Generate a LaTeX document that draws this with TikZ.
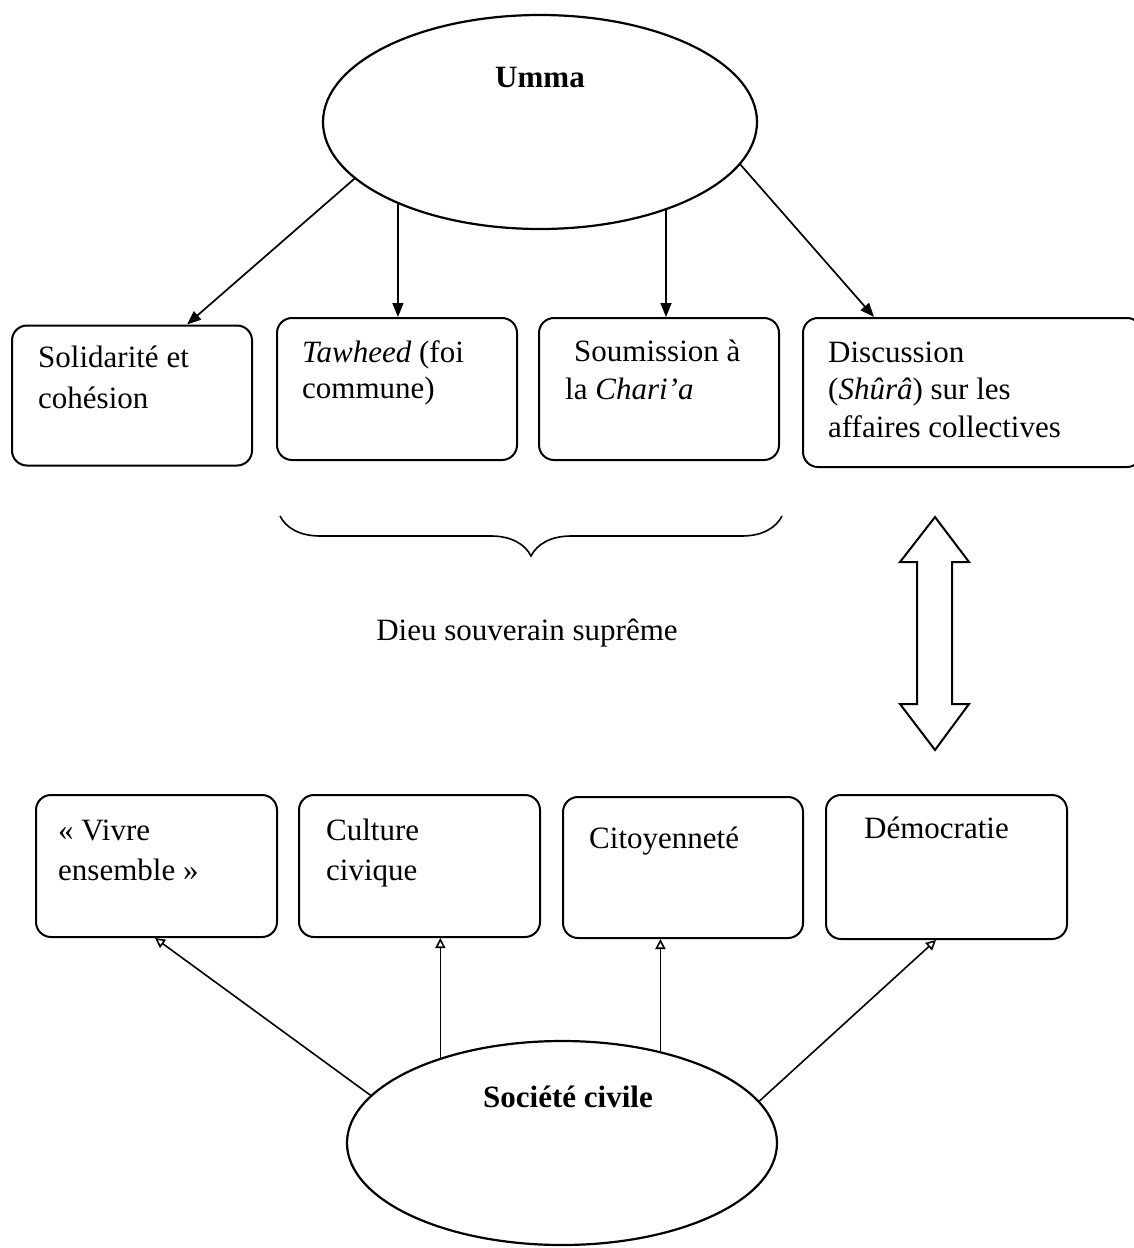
\documentclass[tikz,border=0pt]{standalone}
\usepackage{fontspec}
\setmainfont{Liberation Serif}
\usetikzlibrary{arrows.meta,calc,decorations.pathreplacing,shapes.geometric}
\begin{document}
\begin{tikzpicture}[x=1pt,y=-1pt,
  boxst/.style={draw, line width=2pt, rounded corners=15pt, inner sep=0pt},
  ellst/.style={draw, ellipse, line width=2.2pt, inner sep=0pt},
  txt/.style={inner sep=0pt, font=\fontsize{31}{38}\selectfont},
  btxt/.style={inner sep=0pt, font=\fontsize{31}{38}\selectfont\bfseries},
  toparrow/.style={line width=1.7pt, -{Triangle[length=14pt,width=11pt]}},
  botarrow/.style={line width=1.6pt, -{Triangle[open,length=10pt,width=10pt]}}
]
\useasboundingbox (0,0) rectangle (1134,1248);

% Umma ellipse
\node[ellst, minimum width=434pt, minimum height=214pt] (umma) at (540,122) {};
\node[btxt, anchor=base] (ummat) at (540,87) {Umma};

% Top boxes
\node[boxst, minimum width=240pt, minimum height=140pt] (t1) at (132,395.5) {};
\node[boxst, minimum width=240pt, minimum height=142pt] (t2) at (397,389) {};
\node[boxst, minimum width=240pt, minimum height=142pt] (t3) at (659,389) {};
\node[boxst, minimum width=339pt, minimum height=149pt] (t4) at (972.5,392.5) {};

\node[txt, anchor=base west] (t1a) at (38,367) {Solidarité et};
\node[txt, anchor=base west] (t1b) at (38,408) {cohésion};
\node[txt, anchor=base west] (t2a) at (302,362) {\textit{Tawheed} (foi};
\node[txt, anchor=base west] (t2b) at (302,398) {commune)};
\node[txt, anchor=base west] (t3a) at (574,361) {Soumission à};
\node[txt, anchor=base west] (t3b) at (565,399) {la \textit{Chari’a}};
\node[txt, anchor=base west] (t4a) at (828,362) {Discussion};
\node[txt, anchor=base west] (t4b) at (828,399) {(\textit{Shûrâ}) sur les};
\node[txt, anchor=base west] (t4c) at (828,437) {affaires collectives};

% Arrows from Umma
\draw[toparrow] (umma.197) -- ($(t1.north west)+(176,0)$);
\draw[toparrow] (umma.210) -- (umma.210 |- t2.north);
\draw[toparrow] (umma.325) -- (umma.325 |- t3.north);
\draw[toparrow] (umma.348.4) -- ($(t4.north west)+(72,0)$);

% Brace
\coordinate (brl) at (280,516);
\coordinate (brr) at (782,516);
\draw[line width=1.6pt, decorate, decoration={brace, mirror, amplitude=40pt}] (brl) -- (brr);
\node[txt, anchor=base] (dieu) at (527,640) {Dieu souverain suprême};

% Double block arrow
\draw[line width=2pt, line join=miter] (935,517) -- (969,562) -- (952,562) -- (952,704) -- (969,704)
  -- (935,750) -- (900,704) -- (917,704) -- (917,562) -- (900,562) -- cycle;

% Bottom boxes
\node[boxst, minimum width=241pt, minimum height=142pt] (b1) at (156.5,866) {};
\node[boxst, minimum width=241pt, minimum height=142pt] (b2) at (419.5,866) {};
\node[boxst, minimum width=240pt, minimum height=141pt] (b3) at (683,867.5) {};
\node[boxst, minimum width=241pt, minimum height=144pt] (b4) at (946.5,867) {};

\node[txt, anchor=base west] (b1a) at (58,840) {« Vivre};
\node[txt, anchor=base west] (b1b) at (58,880) {ensemble »};
\node[txt, anchor=base west] (b2a) at (326,840) {Culture};
\node[txt, anchor=base west] (b2b) at (326,880) {civique};
\node[txt, anchor=base west] (b3a) at (589,848) {Citoyenneté};
\node[txt, anchor=base west] (b4a) at (864,838) {Démocratie};

% Société civile ellipse
\node[ellst, minimum width=430pt, minimum height=204pt] (soc) at (562,1143) {};
\node[btxt, anchor=base] (soct) at (568,1107) {Société civile};

% Arrows from Société civile
\draw[botarrow] (soc.166.7) -- ($(b1.south west)+(120,0)$);
\draw[botarrow] (soc.145) -- (soc.145 |- b2.south);
\draw[botarrow] (soc.43) -- (soc.43 |- b3.south);
\draw[botarrow] (soc.12.4) -- ($(b4.south west)+(111,0)$);
\end{tikzpicture}
\end{document}
